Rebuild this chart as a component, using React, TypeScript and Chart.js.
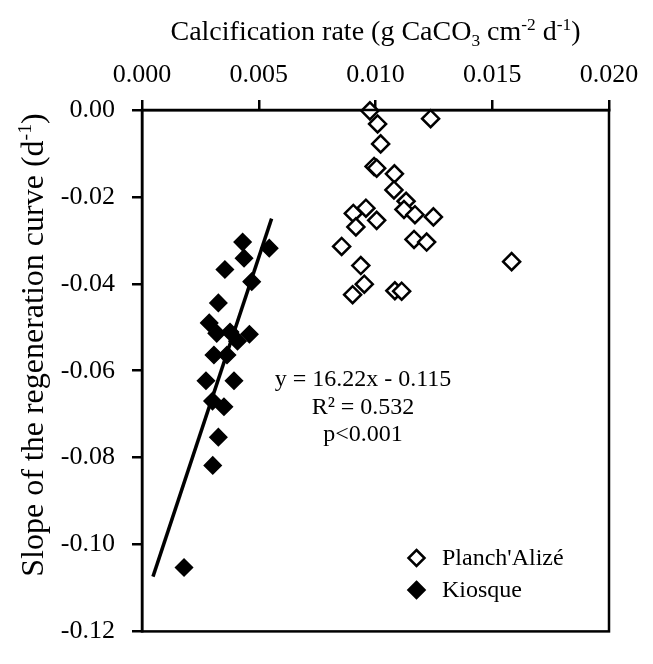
import React, { useEffect, useRef } from 'react';
import { Chart, registerables } from 'chart.js';

Chart.register(...registerables);

const seriesNames = ["Planch'Alizé", 'Kiosque'];

const planchX = [0.00976, 0.01009, 0.01236, 0.01022, 0.00994, 0.01005, 0.01081, 0.01079, 0.01131, 0.01122, 0.01169, 0.01248, 0.00905, 0.00959, 0.01005, 0.00916, 0.01165, 0.01219, 0.00855, 0.00937, 0.01583, 0.00952, 0.00902, 0.01083, 0.01112];
const planchY = [-0.0002, -0.0032, -0.002, -0.0078, -0.013, -0.0134, -0.0147, -0.0184, -0.021, -0.0229, -0.0241, -0.0246, -0.0238, -0.0226, -0.0254, -0.0269, -0.0298, -0.0304, -0.0314, -0.0358, -0.0349, -0.0401, -0.0425, -0.0416, -0.0417];

const kiosqueX = [0.00431, 0.00545, 0.00437, 0.00355, 0.0047, 0.00327, 0.00288, 0.0032, 0.00377, 0.0046, 0.00409, 0.00308, 0.00364, 0.00274, 0.00394, 0.00302, 0.00351, 0.00327, 0.00303, 0.0018];
const kiosqueY = [-0.0304, -0.0318, -0.0341, -0.0367, -0.0395, -0.0444, -0.049, -0.0514, -0.0511, -0.0516, -0.0532, -0.0564, -0.0564, -0.0623, -0.0623, -0.067, -0.0683, -0.0753, -0.0818, -0.1053];

const fitX = [0.00047, 0.00555];
const fitY = [-0.1074, -0.025];

const xTickValues = [0, 0.005, 0.01, 0.015, 0.02];
const xTickLabels = ['0.000', '0.005', '0.010', '0.015', '0.020'];
const yTickValues = [-0.12, -0.1, -0.08, -0.06, -0.04, -0.02, 0];
const yTickLabels = ['-0.12', '-0.10', '-0.08', '-0.06', '-0.04', '-0.02', '0.00'];

const annotationLines = ['y = 16.22x - 0.115', 'R² = 0.532', 'p<0.001'];

const FONT = '"Liberation Serif", "Times New Roman", serif';

type Seg = { t: string; sup?: boolean; sub?: boolean };

const xTitle: Seg[] = [
  { t: 'Calcification rate (g CaCO' },
  { t: '3', sub: true },
  { t: ' cm' },
  { t: '-2', sup: true },
  { t: ' d' },
  { t: '-1', sup: true },
  { t: ')' },
];
const yTitle: Seg[] = [
  { t: 'Slope of the regeneration curve (d' },
  { t: '-1', sup: true },
  { t: ')' },
];

function drawRich(ctx: CanvasRenderingContext2D, segs: Seg[], cx: number, baseline: number, size: number) {
  const small = size * 0.62;
  let total = 0;
  const widths = segs.map((s) => {
    ctx.font = `${s.sup || s.sub ? small : size}px ${FONT}`;
    const w = ctx.measureText(s.t).width;
    total += w;
    return w;
  });
  let x = cx - total / 2;
  ctx.textAlign = 'left';
  ctx.textBaseline = 'alphabetic';
  segs.forEach((s, i) => {
    ctx.font = `${s.sup || s.sub ? small : size}px ${FONT}`;
    const dy = s.sup ? -size * 0.36 : s.sub ? size * 0.2 : 0;
    ctx.fillText(s.t, x, baseline + dy);
    x += widths[i];
  });
}

function diamond(ctx: CanvasRenderingContext2D, x: number, y: number, r: number, fill: string, stroke: string, lw: number) {
  ctx.beginPath();
  ctx.moveTo(x, y - r);
  ctx.lineTo(x + r, y);
  ctx.lineTo(x, y + r);
  ctx.lineTo(x - r, y);
  ctx.closePath();
  ctx.fillStyle = fill;
  ctx.fill();
  ctx.lineWidth = lw;
  ctx.strokeStyle = stroke;
  ctx.stroke();
}

const decorPlugin = {
  id: 'decor',
  afterDraw(chart: any) {
    const ctx: CanvasRenderingContext2D = chart.ctx;
    const a = chart.chartArea;
    ctx.save();
    // frame
    ctx.strokeStyle = '#000';
    ctx.lineWidth = 2.5;
    ctx.strokeRect(a.left, a.top, a.right - a.left, a.bottom - a.top);
    ctx.fillStyle = '#000';
    // x title
    drawRich(ctx, xTitle, (a.left + a.right) / 2, 40, 28);
    // y title
    ctx.save();
    ctx.translate(32, 345);
    ctx.rotate(-Math.PI / 2);
    ctx.fillStyle = '#000';
    drawRich(ctx, yTitle, 0, 32 * 0.33, 32);
    ctx.restore();
    // annotation
    ctx.fillStyle = '#000';
    ctx.font = `24px ${FONT}`;
    ctx.textAlign = 'center';
    ctx.textBaseline = 'alphabetic';
    annotationLines.forEach((line, i) => {
      ctx.fillText(line, 363, 386 + i * 27.5);
    });
    // legend
    const ds = chart.data.datasets;
    [0, 1].forEach((i) => {
      const y = 558 + i * 32;
      diamond(ctx, 416.5, y, 8, ds[i].backgroundColor, '#000', 2.5);
      ctx.fillStyle = '#000';
      ctx.font = `24px ${FONT}`;
      ctx.textAlign = 'left';
      ctx.textBaseline = 'middle';
      ctx.fillText(ds[i].label, 442, y + 1);
    });
    ctx.restore();
  },
};

export default function App() {
  const ref = useRef<HTMLCanvasElement | null>(null);
  useEffect(() => {
    if (!ref.current) return;
    const chart = new Chart(ref.current, {
      type: 'scatter',
      data: {
        datasets: [
          {
            label: seriesNames[0],
            data: planchX.map((x, i) => ({ x, y: planchY[i] })),
            pointStyle: 'rectRot',
            pointRadius: 8.5,
            pointBorderWidth: 2.5,
            borderColor: '#000',
            backgroundColor: '#fff',
            clip: false,
          } as any,
          {
            label: seriesNames[1],
            data: kiosqueX.map((x, i) => ({ x, y: kiosqueY[i] })),
            pointStyle: 'rectRot',
            pointRadius: 8.5,
            pointBorderWidth: 1.5,
            borderColor: '#000',
            backgroundColor: '#000',
            clip: false,
          } as any,
          {
            label: 'fit',
            data: fitX.map((x, i) => ({ x, y: fitY[i] })),
            showLine: true,
            pointRadius: 0,
            borderColor: '#000',
            borderWidth: 3.5,
            backgroundColor: '#000',
            clip: false,
          } as any,
        ],
      },
      options: {
        animation: false,
        responsive: true,
        maintainAspectRatio: false,
        events: [],
        layout: { padding: { left: 0, top: 0, right: 44, bottom: 15 } },
        plugins: { legend: { display: false }, tooltip: { enabled: false }, title: { display: false } },
        font: { family: FONT },
        scales: {
          x: {
            type: 'linear',
            position: 'top',
            min: 0,
            max: 0.02,
            afterBuildTicks: (s: any) => {
              s.ticks = xTickValues.map((v) => ({ value: v }));
            },
            afterFit: (s: any) => {
              s.height = 110;
            },
            ticks: {
              color: '#000',
              font: { family: FONT, size: 26 },
              padding: 9,
              maxRotation: 0,
              autoSkip: false,
              callback: (_v: any, i: number) => xTickLabels[i],
            },
            grid: { drawOnChartArea: false, drawTicks: true, tickLength: 10, color: '#000', lineWidth: 2.5 },
            border: { display: true, color: '#000', width: 2.5 },
          },
          y: {
            type: 'linear',
            position: 'left',
            min: -0.12,
            max: 0,
            afterBuildTicks: (s: any) => {
              s.ticks = yTickValues.map((v) => ({ value: v }));
            },
            afterFit: (s: any) => {
              s.width = 142;
            },
            ticks: {
              color: '#000',
              font: { family: FONT, size: 26 },
              padding: 17,
              autoSkip: false,
              callback: (_v: any, i: number) => yTickLabels[i],
            },
            grid: { drawOnChartArea: false, drawTicks: true, tickLength: 10, color: '#000', lineWidth: 2.5 },
            border: { display: true, color: '#000', width: 2.5 },
          },
        },
      } as any,
      plugins: [decorPlugin],
    });
    return () => chart.destroy();
  }, []);
  return (
    <div style={{ position: 'fixed', left: 0, top: 0, width: 653, height: 664, background: '#fff' }}>
      <canvas ref={ref} />
    </div>
  );
}
